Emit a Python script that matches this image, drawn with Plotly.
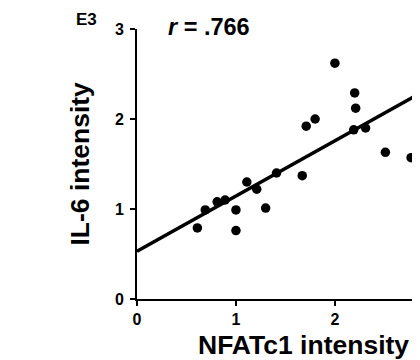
import plotly.graph_objects as go

nfatc1 = [0.61, 0.69, 0.81, 0.89, 1.00, 1.00, 1.11, 1.21, 1.30, 1.41, 1.67, 1.71,
          1.80, 2.00, 2.19, 2.20, 2.21, 2.31, 2.51, 2.77]
il6 = [0.79, 0.99, 1.08, 1.10, 0.99, 0.76, 1.30, 1.22, 1.01, 1.40, 1.37, 1.92,
       2.00, 2.62, 1.88, 2.29, 2.12, 1.90, 1.63, 1.57]
fit_intercept = 0.53
fit_slope = 0.614
fit_x = [0.0, 2.86]
fit_y = [fit_intercept + fit_slope * v for v in fit_x]
x_ticks = [0, 1, 2]
y_ticks = [0, 1, 2, 3]

FONT = "Arial, Liberation Sans, sans-serif"

fig = go.Figure()
fig.add_trace(go.Scatter(x=fit_x, y=fit_y, mode="lines",
                         line=dict(color="black", width=3.5), showlegend=False,
                         cliponaxis=True))
fig.add_trace(go.Scatter(x=nfatc1, y=il6, mode="markers",
                         marker=dict(color="black", size=9.5), showlegend=False,
                         cliponaxis=False))

axis_common = dict(showgrid=False, zeroline=False, showline=True, linecolor="black",
                   linewidth=2, ticks="outside", ticklen=5, tickwidth=2, tickcolor="black",
                   tickfont=dict(family=FONT, size=16, color="black"))

fig.update_xaxes(range=[0, 2.86], tickvals=x_ticks,
                 ticktext=[f"<b>{v}</b>" for v in x_ticks], **axis_common)
fig.update_yaxes(range=[0, 3], tickvals=y_ticks,
                 ticktext=[f"<b>{v}</b>" for v in y_ticks],
                 ticklabelstandoff=3, **axis_common)

fig.update_layout(
    width=412, height=352,
    margin=dict(l=129, r=0, t=21, b=61, pad=0),
    paper_bgcolor="white", plot_bgcolor="white",
    font=dict(family=FONT, color="black"),
    annotations=[
        dict(text="<b>NFATc1 intensity</b>", xref="paper", yref="paper", x=0.59, y=-0.172,
             xanchor="center", yanchor="middle", showarrow=False,
             font=dict(family=FONT, size=26.5, color="black")),
        dict(text="<b>IL-6 intensity</b>", xref="paper", yref="paper", x=-0.201, y=0.502,
             xanchor="center", yanchor="middle", textangle=-90, showarrow=False,
             font=dict(family=FONT, size=26.5, color="black")),
        dict(text="<b>E3</b>", xref="paper", yref="paper", x=-0.178, y=1.037,
             xanchor="center", yanchor="middle", showarrow=False,
             font=dict(family=FONT, size=17, color="black")),
        dict(text="<b><i>r</i> = .766</b>", xref="paper", yref="paper", x=0.254, y=1.009,
             xanchor="center", yanchor="middle", showarrow=False,
             font=dict(family=FONT, size=23.5, color="black")),
    ],
)

fig.write_html("out.html")
